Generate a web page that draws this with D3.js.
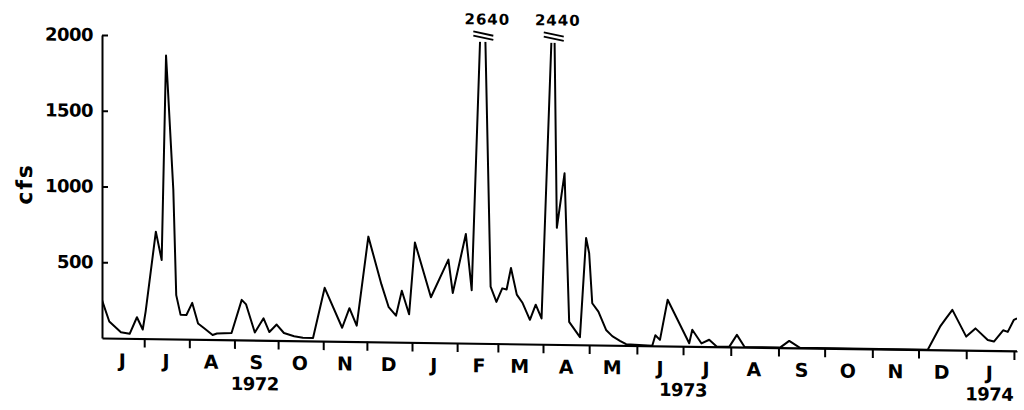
<!DOCTYPE html>
<html>
<head>
<meta charset="utf-8">
<script src="https://cdn.jsdelivr.net/npm/d3@7/dist/d3.min.js"></script>
<style>
  body { margin: 0; background: #fff; }
  text { font-family: 'DejaVu Sans', sans-serif; font-weight: bold; fill: #000; }
</style>
</head>
<body>
<svg></svg>
<script>
// daily flow readings, cfs
var dates = [
  '1972-06-02','1972-06-07','1972-06-15','1972-06-21','1972-06-26','1972-06-30',
  '1972-07-02','1972-07-09','1972-07-13','1972-07-16','1972-07-17','1972-07-21',
  '1972-07-23','1972-07-26','1972-07-30','1972-08-03','1972-08-07','1972-08-11',
  '1972-08-17','1972-08-20','1972-08-30','1972-09-06','1972-09-09','1972-09-15',
  '1972-09-21','1972-09-25','1972-09-30','1972-10-05','1972-10-12','1972-10-18',
  '1972-10-25','1972-11-02','1972-11-14','1972-11-19','1972-11-24','1972-12-02',
  '1972-12-11','1972-12-16','1972-12-21','1972-12-25','1972-12-30','1973-01-03',
  '1973-01-14','1973-01-26','1973-01-29','1973-02-07','1973-02-11','1973-02-19',
  '1973-02-24','1973-02-28','1973-03-04','1973-03-07','1973-03-10','1973-03-14',
  '1973-03-18','1973-03-23','1973-03-27','1973-03-31','1973-04-08','1973-04-10',
  '1973-04-15','1973-04-18','1973-04-25','1973-04-29','1973-05-01','1973-05-03',
  '1973-05-07','1973-05-12','1973-05-16','1973-05-21','1973-05-25','1973-06-11',
  '1973-06-13','1973-06-16','1973-06-21','1973-07-05','1973-07-07','1973-07-13',
  '1973-07-18','1973-07-23','1973-07-31','1973-08-05','1973-08-10','1973-09-02',
  '1973-09-08','1973-09-15','1973-12-07','1973-12-15','1973-12-19','1973-12-23',
  '1974-01-01','1974-01-07','1974-01-15','1974-01-19','1974-01-25','1974-01-28',
  '1974-02-01','1974-02-03'
];
var flow = [
  250, 110, 40, 30, 140, 60,
  180, 707, 520, 1870, 1700, 985,
  290, 160, 160, 240, 105, 75,
  30, 40, 45, 265, 235, 50,
  145, 55, 105, 50, 30, 20,
  20, 352, 90, 220, 105, 694,
  380, 230, 175, 340, 185, 660,
  300, 550, 330, 720, 350, 2640,
  375, 275, 365, 358, 500, 325,
  270, 160, 260, 170, 2440, 770,
  1130, 150, 50, 705, 605, 275,
  220, 100, 60, 30, 8, 0,
  70, 40, 305, 20, 110, 20,
  45, 0, 0, 80, 0, 0,
  45, 0, 0, 153, 210, 265,
  90, 145, 70, 60, 135, 125,
  205, 215
];

var yTicks = [500, 1000, 1500, 2000];
var monthLetters = ['J','J','A','S','O','N','D','J','F','M','A','M','J','J','A','S','O','N','D','J'];
var years = ['1972', '1973', '1974'];
var yearCenters = ['1972-09-15', '1973-07-01', '1974-01-16'];
var peakDates = ['1973-02-19', '1973-04-08'];
var peakLabels = ['2640', '2440'];

function start() {
    var parse = d3.timeParse('%Y-%m-%d');
    var svg = d3.select('svg')
        .attr('width', 1024)
        .attr('height', 410);

    // the scanned figure sits a little crooked, so skew the whole plot
    var g = svg.append('g')
        .attr('transform', 'translate(102,338) skewY(0.81)');

    var x = d3.scaleTime()
        .domain([parse('1972-06-02'), parse('1973-04-01'), parse('1974-02-03')])
        .range([0, 441, 915]);
    var y = d3.scaleLinear()
        .domain([0, 2000])
        .range([0, -303]);

    var data = dates.map(function (d, i) {
        return { date: parse(d), v: flow[i] };
    });

    // y axis
    var ya = g.append('g')
        .call(d3.axisLeft(y).tickValues(yTicks).tickFormat(d3.format('d'))
            .tickSizeInner(-6).tickSizeOuter(0).tickPadding(9));
    ya.select('.domain').attr('stroke-width', 2);
    ya.selectAll('.tick line').attr('stroke-width', 2);
    ya.selectAll('.tick text')
        .style('font-size', '18px')
        .style('font-family', "'DejaVu Sans', sans-serif")
        .style('letter-spacing', '-0.5px');

    g.append('text')
        .attr('transform', 'translate(-70,' + y(1010) + ') rotate(-90)')
        .attr('text-anchor', 'middle')
        .style('font-size', '22px')
        .style('letter-spacing', '2px')
        .text('cfs');

    // x axis, ticks on month boundaries
    var monthStarts = d3.timeMonth.range(parse('1972-07-01'), parse('1974-02-02'));
    var xa = g.append('g')
        .call(d3.axisBottom(x).tickValues(monthStarts).tickSizeInner(9).tickSizeOuter(0).tickFormat(''));
    xa.select('.domain').attr('stroke-width', 2.2);
    xa.selectAll('.tick line').attr('stroke-width', 2);

    var months = d3.timeMonth.range(parse('1972-06-01'), parse('1974-01-02'));
    g.selectAll('.mlab')
        .data(months)
        .enter().append('text')
        .attr('class', 'mlab')
        .attr('x', function (d) { return x(d3.timeDay.offset(d, 15)); })
        .attr('y', 29)
        .attr('text-anchor', 'middle')
        .style('font-size', '19px')
        .text(function (d, i) { return monthLetters[i]; });

    g.selectAll('.ylab')
        .data(years)
        .enter().append('text')
        .attr('class', 'ylab')
        .attr('x', function (d, i) { return x(parse(yearCenters[i])); })
        .attr('y', 50)
        .attr('text-anchor', 'middle')
        .style('font-size', '18px')
        .style('letter-spacing', '-0.5px')
        .text(function (d) { return d; });

    // flow line, cut off above 2000 like the original
    g.append('clipPath').attr('id', 'clip')
        .append('rect')
        .attr('x', 0).attr('y', y(1990))
        .attr('width', 915).attr('height', -y(1990) + 5);

    var line = d3.line()
        .x(function (d) { return x(d.date); })
        .y(function (d) { return y(d.v); });

    g.append('path')
        .datum(data)
        .attr('clip-path', 'url(#clip)')
        .attr('fill', 'none')
        .attr('stroke', '#000')
        .attr('stroke-width', 2)
        .attr('stroke-linejoin', 'round')
        .attr('d', line);

    // break marks and true peak values
    var pk = g.selectAll('.peak')
        .data(peakDates)
        .enter().append('g')
        .attr('class', 'peak');
    [2030, 2058].forEach(function (v) {
        pk.append('line')
            .attr('x1', function (d) { return x(parse(d)) - 10; })
            .attr('x2', function (d) { return x(parse(d)) + 10; })
            .attr('y1', y(v))
            .attr('y2', y(v) + 4)
            .attr('stroke', '#000')
            .attr('stroke-width', 1.8);
    });
    pk.append('text')
        .attr('x', function (d) { return x(parse(d)) + 4; })
        .attr('y', y(2105))
        .attr('text-anchor', 'middle')
        .style('font-size', '15px')
        .style('letter-spacing', '1px')
        .text(function (d, i) { return peakLabels[i]; });
}

start();
</script>
</body>
</html>
